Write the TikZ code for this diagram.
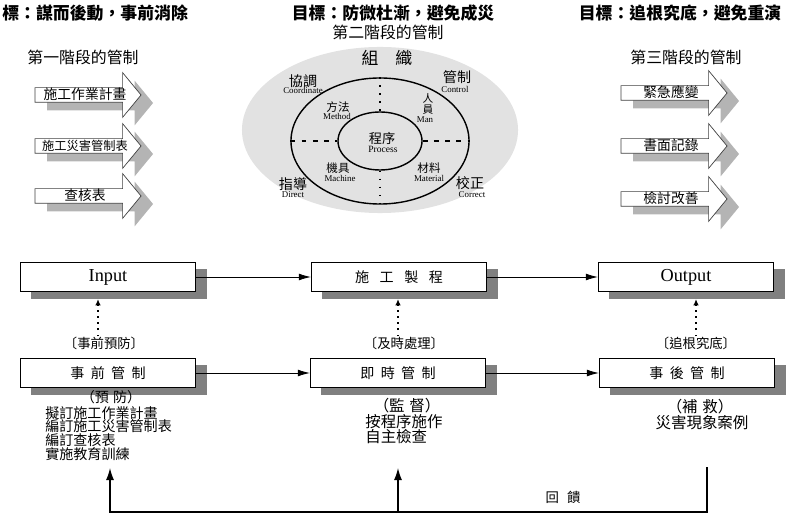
\documentclass[tikz,border=0pt]{standalone}
\usepackage{fontspec}
\setmainfont{Noto Sans CJK TC}
\newfontfamily\enfont{Liberation Serif}
\usepackage{tikz}
\usetikzlibrary{shapes.geometric, shapes.arrows, shadows, arrows.meta, positioning}
\definecolor{ovalgray}{RGB}{226, 226, 226}
\definecolor{arrowshade}{RGB}{180, 180, 180}
\definecolor{boxshade}{RGB}{128, 128, 128}
\newcommand\tightlines{\lineskiplimit=-20pt\relax}

\begin{document}
\begin{tikzpicture}[x=0.025cm, y=-0.025cm,
    goal/.style={font=\bfseries\fontsize{12}{14}\selectfont, inner sep=0pt},
    stagetitle/.style={font=\fontsize{11.3}{13}\selectfont, inner sep=0pt},
    stagearrow/.style={single arrow, draw=black!75, fill=white, line width=0.5pt, single arrow head extend=0.375cm, single arrow tip angle=101, minimum height=2.65cm, text height=0.27cm, text depth=0.05cm, inner ysep=0.015cm, inner xsep=0pt, font=\fontsize{9.8}{10}\selectfont, drop shadow={shadow xshift=0.3cm, shadow yshift=-0.2cm, fill=arrowshade, opacity=1}},
    ring/.style={ellipse, draw, line width=1pt, inner sep=0pt},
    cjktag/.style={font=\fontsize{10}{11}\selectfont, inner sep=0pt},
    smalltag/.style={font=\fontsize{8.2}{9}\selectfont, inner sep=0pt},
    entag/.style={font=\enfont\fontsize{6.3}{7}\selectfont, inner sep=0pt},
    box/.style={rectangle, draw, line width=0.8pt, fill=white, minimum width=4.375cm, minimum height=0.725cm, inner sep=0pt, font=\fontsize{10}{12}\selectfont, drop shadow={shadow xshift=0.275cm, shadow yshift=-0.175cm, fill=boxshade, opacity=1}},
    tag/.style={font=\fontsize{9.5}{11}\selectfont, inner sep=0pt},
    note/.style={font=\fontsize{10}{9.8}\selectfont\tightlines, inner sep=0pt, align=left},
    bignote/.style={font=\fontsize{11}{10.7}\selectfont\tightlines, inner sep=0pt, align=left},
    flow/.style={-{Latex[length=3mm, width=1.7mm]}, line width=0.6pt},
    dotflow/.style={-{Latex[length=1.6mm, width=1.4mm]}, line width=1pt, dash pattern=on 1.2pt off 3.2pt},
    fbline/.style={line width=0.9pt}
]
    \useasboundingbox (0,0) rectangle (807,517);

    \node[goal, anchor=west] (goal1) at (2,13) {標：謀而後動，事前消除};
    \node[goal] (goal2) at (393,13) {目標：防微杜漸，避免成災};
    \node[goal] (goal3) at (680,13) {目標：追根究底，避免重演};
    \node[stagetitle] (stage2) at (388,32) {第二階段的管制};
    \node[stagetitle] (stage1) at (83,57) {第一階段的管制};
    \node[stagetitle] (stage3) at (686,57) {第三階段的管制};

    \node[stagearrow] (plan) at (85,95) {施工作業計畫};
    \node[stagearrow, font=\fontsize{8.7}{9}\selectfont] (hazard) at (85,146) {施工災害管制表};
    \node[stagearrow] (checklist) at (85,196) {查核表};
    \node[stagearrow] (emergency) at (671,93) {緊急應變};
    \node[stagearrow] (record) at (671,146) {書面記錄};
    \node[stagearrow] (review) at (671,199) {檢討改善};

    \node[ellipse, fill=ovalgray, minimum width=6.9cm, minimum height=4.15cm, inner sep=0pt] (org) at (380,130) {};
    \node[ring, minimum width=4.45cm, minimum height=3.15cm] (outer) at (380,141) {};
    \node[ring, minimum width=2.1cm, minimum height=1.45cm] (inner) at (380,141) {};
    \draw[line width=1.2pt, dash pattern=on 1.2pt off 4.5pt] (outer.north) -- (inner.north);
    \draw[line width=1.2pt, dash pattern=on 1.2pt off 4.5pt] (inner.south) -- (outer.south);
    \draw[line width=1pt, dash pattern=on 3.5pt off 4.5pt] (outer.west) -- (inner.west);
    \draw[line width=1pt, dash pattern=on 3.5pt off 4.5pt] (inner.east) -- (outer.east);

    \node[font=\fontsize{12}{13}\selectfont, inner sep=0pt] (orgname) at (387,58) {組　織};
    \node[cjktag] (coord) at (303,81) {協調};
    \node[entag] (coorden) at (303,90) {Coordinate};
    \node[cjktag] (control) at (457,77) {管制};
    \node[entag] (controlen) at (455,89) {Control};
    \node[cjktag] (direct) at (293,184) {指導};
    \node[entag] (directen) at (293,195) {Direct};
    \node[cjktag] (correct) at (470,183) {校正};
    \node[entag] (correcten) at (472,195) {Correct};
    \node[smalltag] (method) at (338,107) {方法};
    \node[entag] (methoden) at (337,116) {Method};
    \node[smalltag, align=center, font={\fontsize{7.6}{7.8}\selectfont\tightlines}] (man) at (428,104) {人\\員};
    \node[entag] (manen) at (425,120) {Man};
    \node[smalltag] (machine) at (338,168) {機具};
    \node[entag] (machineen) at (340,178) {Machine};
    \node[smalltag] (material) at (429,168) {材料};
    \node[entag] (materialen) at (429,178) {Material};
    \node[font=\fontsize{9.4}{10}\selectfont, inner sep=0pt] (process) at (382,138) {程序};
    \node[entag, font=\enfont\fontsize{6.8}{7}\selectfont] (processen) at (383,149) {Process};

    \node[box, font=\enfont\fontsize{13}{14}\selectfont] (input) at (108,277) {Input};
    \node[box] (proc) at (399,277) {施\hspace{.75em}工\hspace{.75em}製\hspace{.75em}程};
    \node[box, font=\enfont\fontsize{13}{14}\selectfont] (output) at (686,277) {Output};
    \node[box] (pre) at (108,373) {事\hspace{.45em}前\hspace{.45em}管\hspace{.45em}制};
    \node[box] (during) at (398,373) {即\hspace{.45em}時\hspace{.45em}管\hspace{.45em}制};
    \node[box] (post) at (687,373) {事\hspace{.45em}後\hspace{.45em}管\hspace{.45em}制};

    \draw[flow] (input) -- (proc);
    \draw[flow] (proc) -- (output);
    \draw[flow] (pre) -- (during);
    \draw[flow] (during) -- (post);

    \node[tag] (prelbl) at (104,343) {〔事前預防〕};
    \node[tag] (duringlbl) at (404,343) {〔及時處理〕};
    \node[tag] (postlbl) at (696,343) {〔追根究底〕};
    \draw[dotflow, shorten >=0.175cm] ([xshift=-0.15cm]prelbl.north) -- ([xshift=-0.15cm]prelbl.north |- input.south);
    \draw[dotflow, shorten >=0.175cm] ([xshift=-0.15cm]duringlbl.north) -- ([xshift=-0.15cm]duringlbl.north |- proc.south);
    \draw[dotflow, shorten >=0.175cm] (postlbl.north) -- (postlbl.north |- output.south);

    \node[note] (prehead) at (111,397) {（預\hspace{.3em}防）};
    \node[note, anchor=north west] (prelist) at (45,406) {擬訂施工作業計畫\\編訂施工災害管制表\\編訂查核表\\實施教育訓練};
    \node[bignote] (duringhead) at (407,406) {（監\hspace{.3em}督）};
    \node[bignote, anchor=north west] (duringlist) at (365,414) {按程序施作\\自主檢查};
    \node[bignote] (posthead) at (700,407) {（補\hspace{.3em}救）};
    \node[bignote] (postlist) at (702,423) {災害現象案例};

    \coordinate (fbtop) at (707,467);
    \coordinate (fbbot) at (707,512);
    \coordinate (fbleft) at (110,468);
    \coordinate (fbmid) at (398,468);
    \draw[fbline, -{Latex[length=3mm, width=2mm]}] (fbtop) -- (fbbot) -| (fbleft);
    \draw[fbline, -{Latex[length=3mm, width=2mm]}] (fbmid |- fbbot) -- (fbmid);
    \node[tag] (feedback) at (563,497) {回\hspace{.6em}饋};
\end{tikzpicture}
\end{document}
